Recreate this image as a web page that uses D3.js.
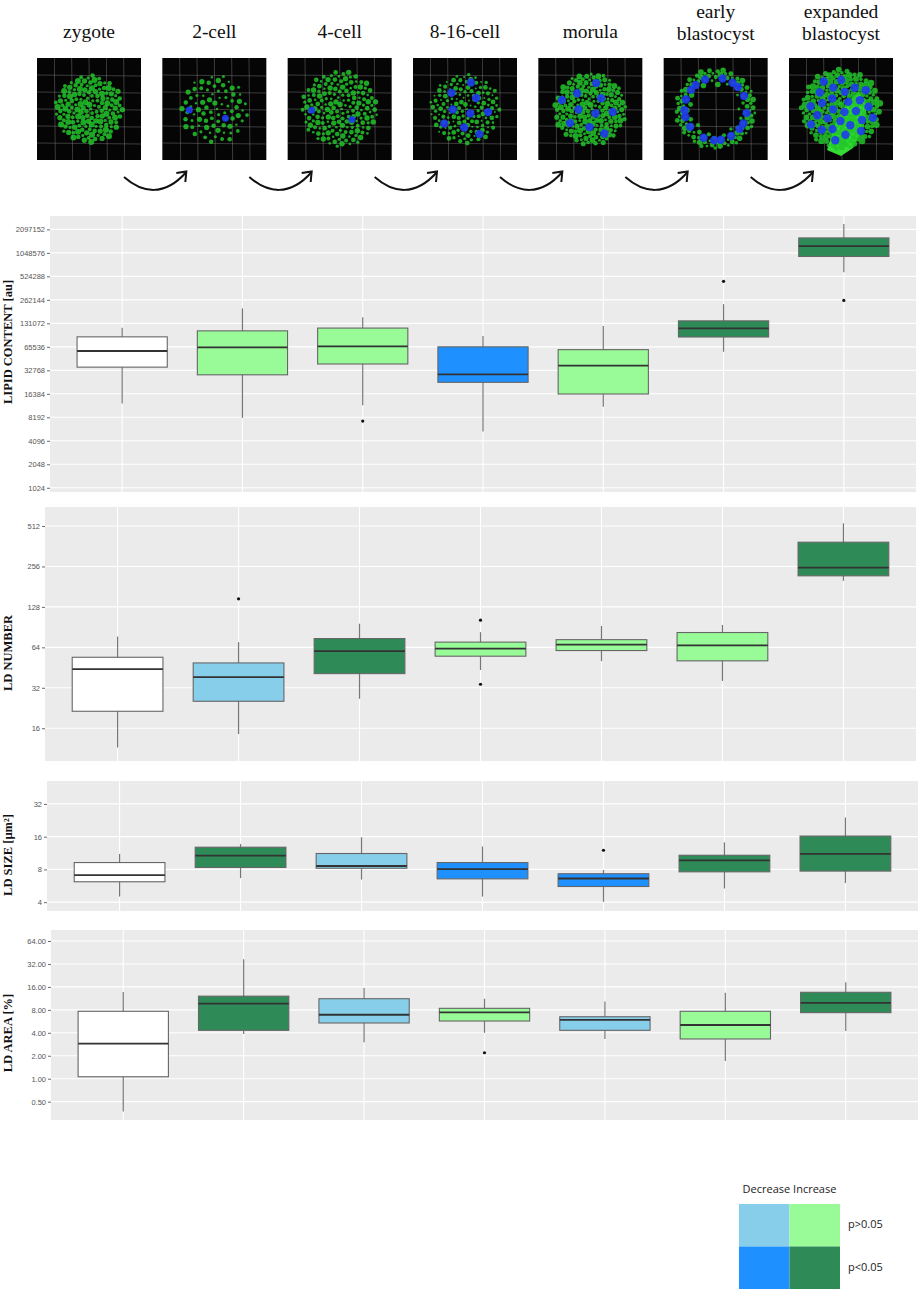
<!DOCTYPE html>
<html>
<head>
<meta charset="utf-8">
<script src="https://cdn.jsdelivr.net/npm/d3@7"></script>
<style>
  body { margin: 0; background: #fff; }
  svg { display: block; }
</style>
</head>
<body>
<script>
// Developmental stages (x categories)
var stages = ["zygote", "2-cell", "4-cell", "8-16-cell", "morula", "early blastocyst", "expanded blastocyst"]
var stageLines = [["zygote"], ["2-cell"], ["4-cell"], ["8-16-cell"], ["morula"], ["early", "blastocyst"], ["expanded", "blastocyst"]]

// Box statistics per stage: [lower whisker, Q1, median, Q3, upper whisker]
var lipidContent = [
  [12300, 36000, 58000, 88000, 115000],
  [8050, 28700, 64500, 105000, 204000],
  [11700, 39500, 66400, 114000, 157000],
  [5370, 23000, 29100, 65500, 90000],
  [11200, 16300, 37600, 60300, 121000],
  [56700, 87600, 113000, 141000, 231000],
  [590000, 943000, 1280000, 1630000, 2450000]
]
var lipidOutliers = [[], [], [7330], [], [], [453000], [258000]]
var lipidSignif = ["ref", "incNS", "incNS", "decS", "incNS", "incS", "incS"]
var lipidTicks = [1024, 2048, 4096, 8192, 16384, 32768, 65536, 131072, 262144, 524288, 1048576, 2097152]

var ldNumber = [
  [11.5, 21.4, 44, 54, 77],
  [14.5, 25.4, 38.4, 49, 70],
  [26.5, 40.8, 60, 74.4, 96],
  [43.4, 55, 62.7, 70, 83],
  [50.5, 60.6, 67, 73, 92.4],
  [36, 50.8, 66.3, 82.5, 94],
  [200, 218, 251, 388, 536]
]
var ldNumberOutliers = [[], [147], [], [102, 34], [], [], []]
var ldNumberSignif = ["ref", "decNS", "incS", "incNS", "incNS", "incNS", "incS"]
var ldNumberTicks = [16, 32, 64, 128, 256, 512]

var ldSize = [
  [4.5, 6.16, 7.1, 9.25, 11.1],
  [6.65, 8.33, 10.7, 12.8, 13.7],
  [6.45, 8.2, 8.6, 11.2, 15.8],
  [4.5, 6.55, 8.05, 9.25, 13],
  [4.03, 5.57, 6.6, 7.3, 7.9],
  [5.34, 7.6, 9.67, 10.8, 14.2],
  [6.0, 7.72, 11.1, 16.2, 24]
]
var ldSizeOutliers = [[], [], [], [], [12], [], []]
var ldSizeSignif = ["ref", "incS", "decNS", "decS", "decS", "incS", "incS"]
var ldSizeTicks = [4, 8, 16, 32]

var ldArea = [
  [0.37, 1.06, 2.88, 7.66, 13.7],
  [3.86, 4.31, 9.63, 12.1, 36.8],
  [3.0, 5.38, 6.9, 11.2, 15.5],
  [4.0, 5.71, 7.43, 8.38, 11.2],
  [3.32, 4.31, 5.9, 6.5, 10.3],
  [1.71, 3.32, 5.06, 7.66, 13.4],
  [4.22, 7.35, 9.9, 13.6, 18.4]
]
var ldAreaOutliers = [[], [], [], [2.19], [], [], []]
var ldAreaSignif = ["ref", "incS", "decNS", "incNS", "decNS", "incNS", "incS"]
var ldAreaTicks = [0.5, 1, 2, 4, 8, 16, 32, 64]

// Legend
var legendCols = ["Decrease", "Increase"]
var legendRows = ["p>0.05", "p<0.05"]
var legendCodes = [["decNS", "incNS"], ["decS", "incS"]]

// Colour per significance code
var fillColor = d3.scaleOrdinal()
  .domain(["ref", "decNS", "decS", "incNS", "incS"])
  .range(["#ffffff", "#87CEEB", "#1E90FF", "#98FB98", "#2E8B57"])

var svgW = 920
var svgH = 1291
var serif = "'Liberation Serif', 'Times New Roman', Times, serif"

var svg = d3.select("body")
            .append("svg")
            .attr("width", svgW)
            .attr("height", svgH)

// ---------- top strip: stage labels, micrographs and arrows ----------
var stageX = d3.scalePoint()
               .domain(stages)
               .range([89, 841])

var imgW = 104
var imgH = 102
var imgTop = 58

var labels = svg.append("g").attr("class", "stage-labels")
stages.forEach(function (s, i) {
  var lines = stageLines[i]
  var t = labels.append("text")
                .attr("x", stageX(s))
                .attr("text-anchor", "middle")
                .style("font-family", serif)
                .style("font-size", "19.5px")
                .attr("fill", "#111")
  lines.forEach(function (l, j) {
    var baseline = lines.length == 1 ? 38 : 18 + j * 22
    t.append("tspan")
     .attr("x", stageX(s)).attr("y", baseline)
     .style("font-family", serif)
     .text(l)
  })
})

// micrograph look-alikes (decorative only)
var blobSpec = [
  {green: 150, r: 34, minR: 1.6, blue: 0},
  {green: 80, r: 34, minR: 1.2, blue: 2},
  {green: 170, r: 38, minR: 1.3, blue: 2},
  {green: 150, r: 35, minR: 1.0, blue: 9},
  {green: 190, r: 36, minR: 1.5, blue: 10},
  {green: 120, r: 40, minR: 1.4, blue: 18},
  {green: 220, r: 40, minR: 1.8, blue: 28}
]
var golden = Math.PI * (3 - Math.sqrt(5))

stages.forEach(function (s, i) {
  var g = svg.append("g")
             .attr("transform", "translate(" + (stageX(s) - imgW / 2) + "," + imgTop + ")")
  g.append("rect").attr("width", imgW).attr("height", imgH).attr("fill", "#050505")
  d3.range(1, 6).forEach(function (k) {
    g.append("line").attr("x1", k * imgW / 6).attr("x2", k * imgW / 6 + 1)
     .attr("y1", 0).attr("y2", imgH)
     .attr("stroke", "#8a8a8a").attr("stroke-width", 0.6).attr("opacity", 0.7)
    g.append("line").attr("y1", k * imgH / 6).attr("y2", k * imgH / 6 + 1)
     .attr("x1", 0).attr("x2", imgW)
     .attr("stroke", "#8a8a8a").attr("stroke-width", 0.6).attr("opacity", 0.7)
  })
  var spec = blobSpec[i]
  var cx = imgW / 2, cy = imgH / 2
  if (i == 6) {
    g.append("path")
     .attr("d", "M38,92 L46,66 L58,44 L70,34 L78,48 L74,70 L64,90 L52,98 Z")
     .attr("fill", "#33dd33")
  }
  var dots = d3.range(spec.green).map(function (k) {
    var rr = spec.r * Math.sqrt((k + 0.5) / spec.green)
    if (i == 5) rr = spec.r * (0.55 + 0.45 * Math.sqrt((k + 0.5) / spec.green))
    return {x: cx + rr * Math.cos(k * golden), y: cy + rr * Math.sin(k * golden),
            r: spec.minR + ((k * 7) % 5) * 0.35}
  })
  g.selectAll(".gd").data(dots).enter().append("circle")
   .attr("cx", function (d) { return d.x }).attr("cy", function (d) { return d.y })
   .attr("r", function (d) { return d.r })
   .attr("fill", "#22c42a").attr("opacity", 0.85)
  var nuclei = d3.range(spec.blue).map(function (k) {
    var rr = spec.r * 0.85 * Math.sqrt((k + 0.5) / Math.max(spec.blue, 1))
    if (i == 5) rr = spec.r * 0.78
    return {x: cx + rr * Math.cos(k * golden + 0.7), y: cy + rr * Math.sin(k * golden + 0.7)}
  })
  g.selectAll(".bd").data(nuclei).enter().append("circle")
   .attr("cx", function (d) { return d.x }).attr("cy", function (d) { return d.y })
   .attr("r", i < 3 ? 3.5 : 4.2)
   .attr("fill", "#1f3cf0").attr("opacity", 0.9)
})

// curved arrows between stages
var arrows = svg.append("g").attr("class", "arrows")
stages.slice(0, -1).forEach(function (s, i) {
  var x0 = stageX(s) + 35
  var x1 = stageX(stages[i + 1]) - 28
  arrows.append("path")
        .attr("d", "M" + x0 + ",177 C" + (x0 + 18) + ",193 " + (x1 - 22) + ",197 " + x1 + ",172")
        .attr("fill", "none").attr("stroke", "#111").attr("stroke-width", 2)
  arrows.append("path")
        .attr("d", "M" + (x1 - 10) + ",173 L" + x1 + ",171.5 L" + (x1 - 1) + ",182")
        .attr("fill", "none").attr("stroke", "#111").attr("stroke-width", 2)
        .attr("stroke-linejoin", "miter")
})

// ---------- box plot panels ----------
function drawPanel(cfg) {

  var yScale = d3.scaleLog().base(2)
                 .domain(cfg.domain)
                 .range([cfg.bottom, cfg.top])

  var xScale = d3.scalePoint()
                 .domain(stages)
                 .range([cfg.left, cfg.right])
                 .padding(0.6)

  var boxW = xScale.step() * 0.75

  var panel = svg.append("g").attr("class", "panel")

  // background and grid
  panel.append("rect")
       .attr("x", cfg.left).attr("y", cfg.top)
       .attr("width", cfg.right - cfg.left).attr("height", cfg.bottom - cfg.top)
       .attr("fill", "#EBEBEB")

  panel.selectAll(".hgrid").data(cfg.ticks).enter().append("line")
       .attr("x1", cfg.left).attr("x2", cfg.right)
       .attr("y1", function (d) { return yScale(d) })
       .attr("y2", function (d) { return yScale(d) })
       .attr("stroke", "#fff").attr("stroke-width", 1.1)

  panel.selectAll(".vgrid").data(stages).enter().append("line")
       .attr("y1", cfg.top).attr("y2", cfg.bottom)
       .attr("x1", function (d) { return xScale(d) })
       .attr("x2", function (d) { return xScale(d) })
       .attr("stroke", "#fff").attr("stroke-width", 1.1)

  // y axis
  var yAxis = d3.axisLeft(yScale)
                .tickValues(cfg.ticks)
                .tickFormat(cfg.format)
                .tickSize(3)
                .tickPadding(2)
  var ax = panel.append("g")
                .attr("transform", "translate(" + cfg.left + ",0)")
                .call(yAxis)
  ax.select(".domain").remove()
  ax.selectAll(".tick line").attr("stroke", "#444").attr("stroke-width", 0.8)
  ax.selectAll(".tick text")
    .attr("fill", "#555")
    .style("font-family", "'Liberation Sans', Arial, sans-serif")
    .style("font-size", "7.5px")

  // axis title
  panel.append("text")
       .attr("transform", "translate(" + 12 + "," + cfg.titleY + ") rotate(-90)")
       .attr("text-anchor", "middle")
       .style("font-family", serif)
       .style("font-weight", "bold")
       .style("font-size", "12.5px")
       .attr("fill", "#111")
       .text(cfg.title)

  var rows = stages.map(function (s, i) {
    return {stage: s, stats: cfg.stats[i], outliers: cfg.outliers[i], code: cfg.signif[i]}
  })

  var boxes = panel.selectAll(".box").data(rows).enter().append("g")

  // whiskers
  boxes.append("line")
       .attr("x1", function (d) { return xScale(d.stage) })
       .attr("x2", function (d) { return xScale(d.stage) })
       .attr("y1", function (d) { return yScale(d.stats[0]) })
       .attr("y2", function (d) { return yScale(d.stats[4]) })
       .attr("stroke", "#777").attr("stroke-width", 1.2)

  // box
  boxes.append("rect")
       .attr("x", function (d) { return xScale(d.stage) - boxW / 2 })
       .attr("width", boxW)
       .attr("y", function (d) { return yScale(d.stats[3]) })
       .attr("height", function (d) { return yScale(d.stats[1]) - yScale(d.stats[3]) })
       .attr("fill", function (d) { return fillColor(d.code) })
       .attr("stroke", "#666").attr("stroke-width", 1.1)

  // median
  boxes.append("line")
       .attr("x1", function (d) { return xScale(d.stage) - boxW / 2 })
       .attr("x2", function (d) { return xScale(d.stage) + boxW / 2 })
       .attr("y1", function (d) { return yScale(d.stats[2]) })
       .attr("y2", function (d) { return yScale(d.stats[2]) })
       .attr("stroke", "#333").attr("stroke-width", 1.8)

  // outliers
  boxes.selectAll(".out")
       .data(function (d) { return d.outliers.map(function (v) { return {stage: d.stage, v: v} }) })
       .enter().append("circle")
       .attr("cx", function (d) { return xScale(d.stage) })
       .attr("cy", function (d) { return yScale(d.v) })
       .attr("r", 1.6)
       .attr("fill", "#111")
}

drawPanel({
  title: "LIPID CONTENT [au]", titleY: 342,
  left: 50, right: 916, top: 216, bottom: 492,
  domain: [Math.pow(2, 9.82), Math.pow(2, 21.57)],
  ticks: lipidTicks, format: d3.format("d"),
  stats: lipidContent, outliers: lipidOutliers, signif: lipidSignif
})

drawPanel({
  title: "LD NUMBER", titleY: 653,
  left: 45, right: 916, top: 507, bottom: 761,
  domain: [Math.pow(2, 3.19), Math.pow(2, 9.47)],
  ticks: ldNumberTicks, format: d3.format("d"),
  stats: ldNumber, outliers: ldNumberOutliers, signif: ldNumberSignif
})

drawPanel({
  title: "LD SIZE [\u00b5m\u00b2]", titleY: 855,
  left: 47, right: 918, top: 781, bottom: 911,
  domain: [Math.pow(2, 1.73), Math.pow(2, 5.70)],
  ticks: ldSizeTicks, format: d3.format("d"),
  stats: ldSize, outliers: ldSizeOutliers, signif: ldSizeSignif
})

drawPanel({
  title: "LD AREA [%]", titleY: 1033,
  left: 51, right: 918, top: 930, bottom: 1120,
  domain: [Math.pow(2, -1.8), Math.pow(2, 6.48)],
  ticks: ldAreaTicks, format: d3.format(".2f"),
  stats: ldArea, outliers: ldAreaOutliers, signif: ldAreaSignif
})

// ---------- legend ----------
var cellX = d3.scaleBand().domain(legendCols).range([739, 840])
var cellY = d3.scaleBand().domain(legendRows).range([1204, 1289])

var legend = svg.append("g").attr("class", "legend")

legendRows.forEach(function (r, ri) {
  legendCols.forEach(function (c, ci) {
    legend.append("rect")
          .attr("x", cellX(c)).attr("y", cellY(r))
          .attr("width", cellX.bandwidth()).attr("height", cellY.bandwidth())
          .attr("fill", fillColor(legendCodes[ri][ci]))
  })
  legend.append("text")
        .attr("x", 848).attr("y", cellY(r) + cellY.bandwidth() / 2 + 3)
        .style("font-family", "'Open Sans', 'Noto Sans', sans-serif")
        .style("font-size", "11px")
        .attr("fill", "#222")
        .text(r)
})

legend.append("text")
      .attr("x", (cellX.range()[0] + cellX.range()[1]) / 2)
      .attr("y", 1193)
      .attr("text-anchor", "middle")
      .style("font-family", "'Open Sans', 'Noto Sans', sans-serif")
      .style("font-size", "11px")
      .attr("fill", "#222")
      .text(legendCols.join(" "))
</script>
</body>
</html>
